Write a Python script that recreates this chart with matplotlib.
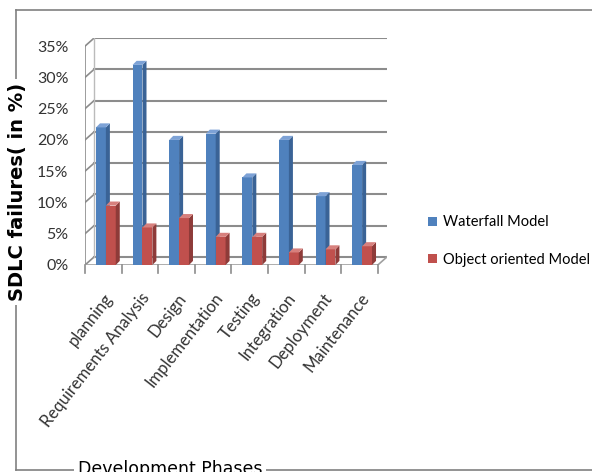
import matplotlib.pyplot as plt
from matplotlib.patches import Polygon, Patch
from matplotlib.lines import Line2D

phases = ['planning', 'Requirements Analysis', 'Design', 'Implementation',
          'Testing', 'Integration', 'Deployment', 'Maintenance']
waterfall = [22, 32, 20, 21, 14, 20, 11, 16]
object_oriented = [9.5, 6, 7.5, 4.5, 4.5, 2, 2.5, 3]
yticks = [0, 5, 10, 15, 20, 25, 30, 35]

blue = ('#4F81BD', '#3A6396', '#7DA2D6')
red = ('#C0504D', '#8E3B39', '#D7807D')
grid_col = '#8C8C8C'

# depth of the back wall and of one bar (data units)
ddx, ddy = 0.25, 1.3
bdx, bdy = 0.11, 0.65

fig = plt.figure(figsize=(5.92, 4.72), dpi=100)
ax = fig.add_axes([85 / 592, 1 - 265 / 472, 302 / 592, 227 / 472])
ax.set_xlim(-0.5, len(phases) - 0.5 + ddx)
ax.set_ylim(0, 35 + ddy)
for s in ax.spines.values():
    s.set_visible(False)

# back wall grid + links to the front axis
left, right = -0.5, len(phases) - 0.5
for t in yticks:
    ax.plot([left + ddx, right + ddx], [t + ddy, t + ddy], color=grid_col, lw=1.5, zorder=1)
    ax.plot([left, left + ddx], [t, t + ddy], color=grid_col, lw=1.2, zorder=1)
ax.plot([left, left], [0, 35], color=grid_col, lw=1.2, zorder=1)
ax.plot([left + ddx, left + ddx], [ddy, 35 + ddy], color='#BBBBBB', lw=1, zorder=1)
# floor
ax.plot([left, right], [0, 0], color='#A0A0A0', lw=1.2, zorder=1)
ax.plot([right, right + ddx], [0, ddy], color='#A0A0A0', lw=1.2, zorder=1)
for i in range(len(phases) + 1):
    ax.plot([left + i, left + i], [0, -1.3], color=grid_col, lw=1.2, clip_on=False, zorder=1)


def bar3d(x0, w, h, cols):
    front = [(x0, 0), (x0 + w, 0), (x0 + w, h), (x0, h)]
    side = [(x0 + w, 0), (x0 + w + bdx, bdy), (x0 + w + bdx, h + bdy), (x0 + w, h)]
    top = [(x0, h), (x0 + w, h), (x0 + w + bdx, h + bdy), (x0 + bdx, h + bdy)]
    ax.add_patch(Polygon(front, closed=True, fc=cols[0], ec='none', zorder=3))
    ax.add_patch(Polygon(side, closed=True, fc=cols[1], ec='none', zorder=3))
    ax.add_patch(Polygon(top, closed=True, fc=cols[2], ec='none', zorder=3))


w = 0.27
for i in range(len(phases)):
    bar3d(i - 0.2, w, waterfall[i], blue)
    bar3d(i - 0.2 + w, w, object_oriented[i], red)

ax.set_yticks(yticks)
ax.set_yticklabels([f'{t}%' for t in yticks], fontsize=11.5, family='Lato', color='#333333')
ax.set_xticks(range(len(phases)))
ax.set_xticklabels(phases, rotation=52, ha='right', rotation_mode='anchor',
                   fontsize=12, family='Lato', color='#333333')
ax.tick_params(axis='y', length=0, pad=12)
ax.tick_params(axis='x', length=0, pad=18)

# chart border and axis titles
fig.add_artist(Line2D([16 / 592, 1], [1 - 10 / 472, 1 - 10 / 472], color='#808080', lw=1.2))
fig.add_artist(Line2D([16 / 592, 16 / 592], [1 - 10 / 472, 1 - 470 / 472], color='#808080', lw=1.2))
fig.add_artist(Line2D([16 / 592, 1], [1 - 470 / 472, 1 - 470 / 472], color='#808080', lw=1.2))
fig.text(18 / 592, 1 - 192 / 472, 'SDLC failures( in %)', rotation=90, ha='center', va='center',
         fontsize=14, fontweight='bold', family='DejaVu Sans',
         bbox=dict(fc='white', ec='none', pad=3))
fig.text(170 / 592, 1 - 469 / 472, 'Development Phases', ha='center', va='center',
         fontsize=12.5, family='DejaVu Sans',
         bbox=dict(fc='white', ec='none', pad=3))

handles = [Patch(fc=blue[0], ec='none'), Patch(fc=red[0], ec='none')]
fig.legend(handles, ['Waterfall Model', 'Object oriented Model'], loc='center left',
           bbox_to_anchor=(415 / 592, 1 - 241 / 472), frameon=False,
           handlelength=0.6, handleheight=0.6, handletextpad=0.4, labelspacing=1.6,
           prop={'family': 'Lato', 'size': 10.5})

fig.savefig('out.png', dpi=100)
